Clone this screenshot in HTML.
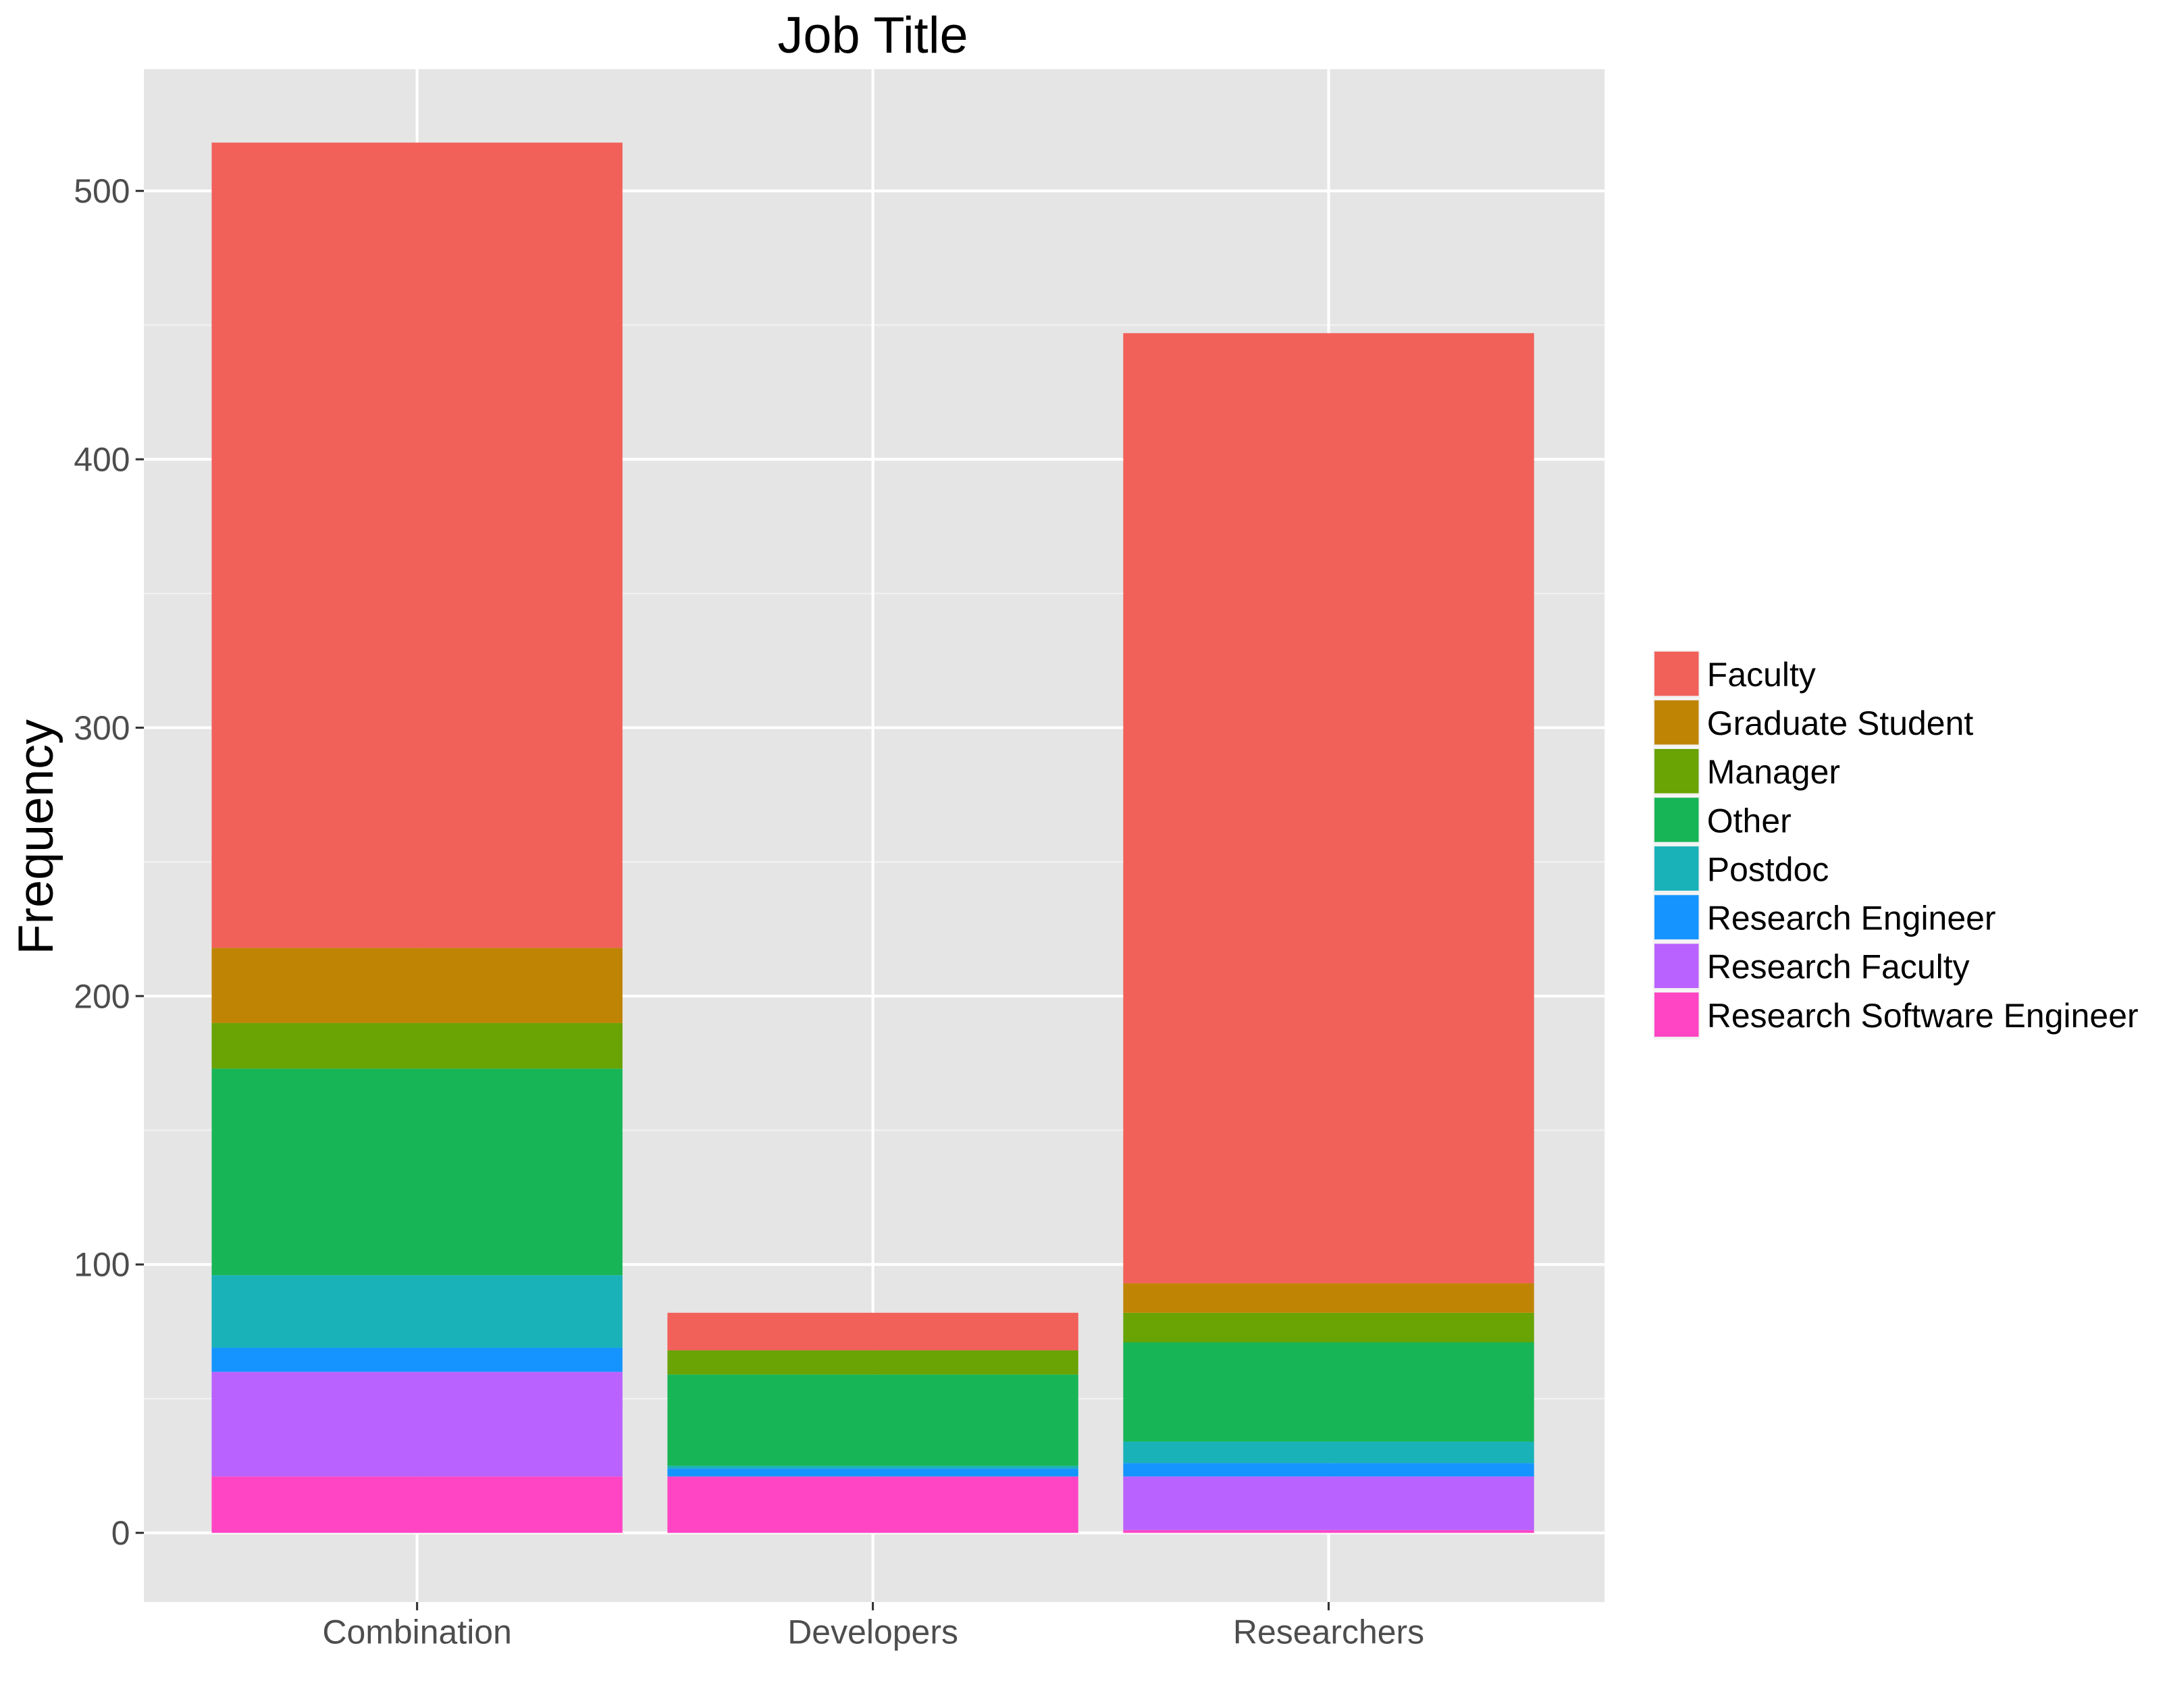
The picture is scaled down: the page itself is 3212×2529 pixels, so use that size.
<!DOCTYPE html>
<html><head><meta charset="utf-8"><style>html,body{margin:0;padding:0;background:#fff}svg{display:block}</style></head>
<body>
<svg id="chart" xmlns="http://www.w3.org/2000/svg" width="3212" height="2529" viewBox="0 0 1568 1234.6" font-family="'Liberation Sans', Arial, sans-serif">
<rect width="1568" height="1234.6" fill="#fff"/>
<rect x="104" y="50" width="1056" height="1108" fill="#e5e5e5"/>
<g id="grid"></g>
<g id="bars"></g>
<g id="axes"></g>
<text x="631" y="38" font-size="37" text-anchor="middle" fill="#000">Job Title</text>
<text transform="translate(38,605) rotate(-90)" font-size="36" text-anchor="middle" fill="#000">Frequency</text>
<g id="legend"></g>
</svg>
<script>
const categories = ["Combination","Developers","Researchers"];
const seriesNames = ["Research Software Engineer","Research Faculty","Research Engineer","Postdoc","Other","Manager","Graduate Student","Faculty"];
const rseVals = [21,21,1];
const rfVals = [39,0,20];
const reVals = [9,3,5];
const postdocVals = [27,1,8];
const otherVals = [77,34,37];
const managerVals = [17,9,11];
const gradVals = [28,0,11];
const facultyVals = [300,14,354];
const yTicks = [0,100,200,300,400,500];
const legendOrder = ["Faculty","Graduate Student","Manager","Other","Postdoc","Research Engineer","Research Faculty","Research Software Engineer"];

const colors = {"Faculty":"#F2605A","Graduate Student":"#C08405","Manager":"#69A304","Other":"#18B556","Postdoc":"#19B2B8","Research Engineer":"#1594FF","Research Faculty":"#B962FF","Research Software Engineer":"#FF45C4"};
const series = [rseVals,rfVals,reVals,postdocVals,otherVals,managerVals,gradVals,facultyVals];
const NS="http://www.w3.org/2000/svg";
function y(v){return 1108 - v*1.94;}
function xc(i){return 301.5 + i*329.5;}
const barW=297;
function mk(tag,attrs,parent){const e=document.createElementNS(NS,tag);for(const k in attrs)e.setAttribute(k,attrs[k]);parent.appendChild(e);return e;}
const grid=document.getElementById('grid');
for(let v=50;v<=550;v+=100){const yy=y(v);if(yy>50&&yy<1158)mk('line',{x1:104,x2:1160,y1:yy,y2:yy,stroke:'#f2f2f2','stroke-width':1},grid);}
yTicks.forEach(v=>{const l=mk('line',{x1:104,x2:1160,y1:y(v),y2:y(v),stroke:'#fff','stroke-width':2},grid);

});
categories.forEach((c,i)=>{const l=mk('line',{x1:xc(i),x2:xc(i),y1:50,y2:1158,stroke:'#fff','stroke-width':2},grid);

});
const bars=document.getElementById('bars');
categories.forEach((c,i)=>{let cum=0;series.forEach((s,j)=>{const v=s[i];if(v>0){const r=mk('rect',{x:xc(i)-barW/2,y:y(cum+v),width:barW,height:y(cum)-y(cum+v),fill:colors[seriesNames[j]]},bars);

}cum+=v;});});
const axes=document.getElementById('axes');
yTicks.forEach(v=>{mk('line',{x1:98,x2:104,y1:y(v),y2:y(v),stroke:'#333','stroke-width':1.5},axes);
const t=mk('text',{x:94,y:y(v)+8.5,'font-size':24.4,'text-anchor':'end',fill:'#4d4d4d'},axes);t.textContent=v;

});
categories.forEach((c,i)=>{mk('line',{x1:xc(i),x2:xc(i),y1:1158,y2:1164,stroke:'#333','stroke-width':1.5},axes);
const t=mk('text',{x:xc(i),y:1188,'font-size':24.4,'text-anchor':'middle',fill:'#4d4d4d'},axes);t.textContent=c;

});
const lg=document.getElementById('legend');
legendOrder.forEach((n,k)=>{const yy=470+k*35.2;
const g=mk('g',{},lg);


mk('rect',{x:1195,y:yy,width:34,height:35,fill:'#f2f2f2'},g);
mk('rect',{x:1196,y:yy+1,width:32,height:32,fill:colors[n]},g);
const t=mk('text',{x:1234,y:yy+26,'font-size':24.4,fill:'#000'},g);t.textContent=n;});
</script>
</body></html>
